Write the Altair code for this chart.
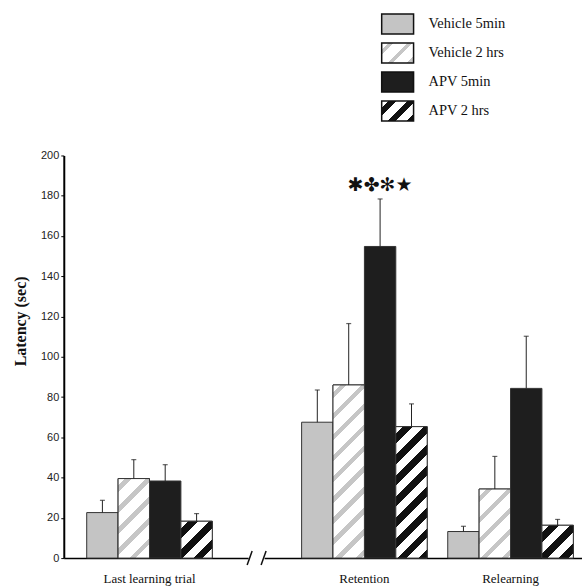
import altair as alt
import pandas as pd

# ---------------- data ----------------
groups = ["Last learning trial", "Retention", "Relearning"]
series = ["Vehicle 5min", "Vehicle 2 hrs", "APV 5min", "APV 2 hrs"]

veh5_mean = [22.6, 67.5, 13.2]
veh2_mean = [39.5, 86.0, 34.3]
apv5_mean = [38.3, 154.8, 84.3]
apv2_mean = [18.3, 65.3, 16.3]

veh5_sem = [6.1, 16.0, 2.6]
veh2_sem = [9.4, 30.5, 16.2]
apv5_sem = [8.1, 23.6, 25.9]
apv2_sem = [3.8, 11.3, 2.9]

y_ticks = [0, 20, 40, 60, 80, 100, 120, 140, 160, 180, 200]
significance = "✱✤✻★"
y_title = "Latency (sec)"

means = [veh5_mean, veh2_mean, apv5_mean, apv2_mean]
sems = [veh5_sem, veh2_sem, apv5_sem, apv2_sem]
rows = []
for si, s in enumerate(series):
    for gi, g in enumerate(groups):
        rows.append({"group": g, "series": s, "mean": means[si][gi],
                     "top": means[si][gi] + sems[si][gi]})
df = pd.DataFrame(rows)

# ---------------- layout / style ----------------
H = 404
W1, W2 = 185, 319
BAND = 126
BAR_W = BAND / 4
YMAX = 200

solid = {"Vehicle 5min": "#c4c4c4", "Vehicle 2 hrs": "#ffffff",
         "APV 5min": "#1e1e1e", "APV 2 hrs": "#ffffff"}
stripe_style = {"Vehicle 2 hrs": ("#c6c6c6", 0.30), "APV 2 hrs": ("#111111", 0.46)}
PERIOD = 21


def stripe_gradient(w, h, color, frac, period=PERIOD, bg="#ffffff"):
    total = w + h
    c = total / (w * w + h * h)
    p = period / total
    stops = []
    k = 0
    while k * p < 1:
        a = k * p + 0.35 * p
        b = a + frac * p
        for off, col in [(k * p, bg), (a, bg), (a, color), (b, color), (b, bg)]:
            stops.append({"offset": min(1.0, off), "color": col})
        k += 1
    stops.append({"offset": 1.0, "color": bg})
    return {"gradient": "linear", "x1": 0, "y1": 0, "x2": w * c, "y2": h * c,
            "stops": stops}


y_axis = alt.Axis(values=y_ticks, tickSize=3, tickColor="#000", tickWidth=1,
                  domainColor="#000", domainWidth=2, labelFont="Liberation Sans",
                  labelFontSize=11, labelColor="#222", labelPadding=2, grid=False,
                  title=y_title, titleFont="Liberation Serif", titleFontSize=16,
                  titleFontWeight="bold", titleColor="#111", titlePadding=12,
                  titleY=166)


def x_axis():
    return alt.Axis(ticks=False, domainColor="#000", domainWidth=1.5, labelAngle=0,
                    labelFont="Liberation Serif", labelFontSize=13, labelColor="#111",
                    labelPadding=14, title=None, grid=False)


def panel(glist, width, x_scale, show_y):
    data = df[df["group"].isin(glist)]
    base = alt.Chart(data).encode(
        x=alt.X("group:N", scale=x_scale, axis=x_axis(), sort=glist),
        xOffset=alt.XOffset("series:N", scale=alt.Scale(domain=series, paddingInner=0,
                                                         paddingOuter=0)),
    )
    ysc = alt.Scale(domain=[0, YMAX], nice=False)
    yenc = alt.Y("mean:Q", scale=ysc, axis=y_axis if show_y else None)
    layers = []
    layers.append(base.mark_bar(stroke="#333", strokeWidth=1).encode(
        y=yenc,
        fill=alt.Fill("series:N", scale=alt.Scale(domain=series,
                                                  range=[solid[s] for s in series]),
                      legend=None)))
    for g in glist:
        for s, (col, frac) in stripe_style.items():
            val = float(data[(data.group == g) & (data.series == s)]["mean"].iloc[0])
            h = val / YMAX * H
            grad = stripe_gradient(BAR_W, h, col, frac)
            layers.append(base.transform_filter(
                f"datum.group === '{g}' && datum.series === '{s}'"
            ).mark_bar(fill=grad, stroke="#333", strokeWidth=1).encode(y=yenc))
    layers.append(base.mark_rule(color="#222", strokeWidth=1).encode(
        y=alt.Y("mean:Q", scale=ysc), y2="top:Q"))
    layers.append(base.mark_tick(color="#222", thickness=1.2, size=5,
                                 orient="horizontal").encode(
        y=alt.Y("top:Q", scale=ysc)))
    return layers, ysc, base


one = pd.DataFrame({"k": [0]})

# panel 1
xs1 = alt.Scale(domain=[groups[0]], paddingInner=0, paddingOuter=0.234, align=0.39)
l1, ysc1, b1 = panel([groups[0]], W1, xs1, True)
slash1 = alt.Chart(one).mark_rule(color="#111", strokeWidth=1.5).encode(
    x=alt.value(W1 - 1), x2=alt.value(W1 + 4), y=alt.value(H + 7), y2=alt.value(H - 7))
p1 = alt.layer(*l1, slash1).properties(width=W1, height=H)

# panel 2
xs2 = alt.Scale(domain=groups[1:], paddingInner=0.1405, paddingOuter=0.158, align=0.8125)
l2, ysc2, b2 = panel(groups[1:], W2, xs2, False)
stars = b2.transform_filter(
    f"datum.group === '{groups[1]}' && datum.series === '{series[2]}'"
).mark_text(text=significance, font="DejaVu Sans", fontSize=19, color="#111",
            baseline="middle", dy=-14).encode(y=alt.Y("top:Q", scale=ysc2))
slash2 = alt.Chart(one).mark_rule(color="#111", strokeWidth=1.5).encode(
    x=alt.value(-3), x2=alt.value(2), y=alt.value(H + 7), y2=alt.value(H - 7))

legend_layers = []
LEG_TOP = -142
LEG_STEP = 29.1
for i, s in enumerate(series):
    top = LEG_TOP + i * LEG_STEP
    if s in stripe_style:
        col, frac = stripe_style[s]
        fill = stripe_gradient(32, 20, col, frac, period=19)
    else:
        fill = solid[s]
    legend_layers.append(alt.Chart(one).mark_rect(fill=fill, stroke="#111",
                                                  strokeWidth=1.5).encode(
        x=alt.value(118), x2=alt.value(150), y=alt.value(top), y2=alt.value(top + 20)))
    legend_layers.append(alt.Chart(one).mark_text(
        text=s, font="Liberation Serif", fontSize=14.5, color="#111", align="left",
        baseline="middle").encode(x=alt.value(165), y=alt.value(top + 10)))

p2 = alt.layer(*l2, stars, slash2, *legend_layers).properties(width=W2, height=H)

chart = alt.hconcat(p1, p2, spacing=16, bounds="flush").configure_view(
    stroke=None
).properties(
    padding={"left": 12, "top": 12, "right": 0, "bottom": 0},
    background="#ffffff",
)

chart.save("out.html", embed_options={"renderer": "svg", "actions": False})
